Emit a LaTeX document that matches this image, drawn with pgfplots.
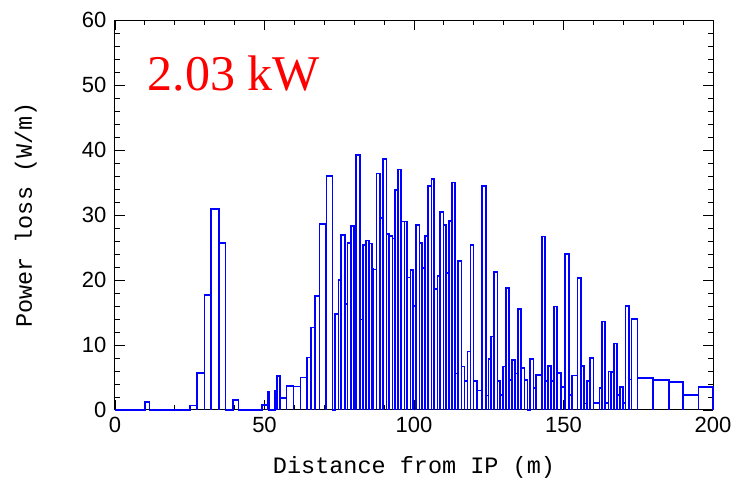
\documentclass[border=0pt]{standalone}
\usepackage{pgfplots}
\pgfplotsset{compat=1.18}
\usepackage{fontspec}
\setmainfont{Liberation Sans}
\newfontfamily\labfont{Liberation Mono}
\newfontfamily\timesfont{Liberation Serif}
\begin{document}
\begin{tikzpicture}
\useasboundingbox (-115pt,-80pt) rectangle (625pt,410pt);
\begin{axis}[
  scale only axis,
  width=598pt, height=390pt,
  xmin=0, xmax=200, ymin=0, ymax=60,
  xtick={0,50,100,150,200},
  ytick={0,10,20,30,40,50,60},
  minor x tick num=4,
  minor y tick num=4,
  tick align=inside,
  major tick length=10pt,
  minor tick length=5pt,
  axis line style={line width=1pt},
  every tick/.style={black, line width=0.9pt},
  /pgf/number format/assume math mode=true,
  ticklabel style={font=\fontsize{22}{24}\selectfont},
  xticklabel style={yshift=-4pt},
  yticklabel style={xshift=-5pt},
  xlabel={Distance from IP (m)},
  ylabel={Power loss (W/m)},
  every axis x label/.style={at={(axis description cs:0.5,-0.146)}, anchor=center, font=\labfont\fontsize{23.5}{26}\selectfont},
  every axis y label/.style={at={(axis description cs:-0.149,0.5)}, anchor=center, rotate=90, font=\labfont\fontsize{23.5}{26}\selectfont},
  clip=false,
]
% histogram outline: each bin drawn as a rectangle down to zero
\addplot[draw=blue, line width=1.6pt, mark=none, line join=miter] coordinates {
(0,0)
(10.0,0)(10.0,1.2)(11.5,1.2)(11.5,0)
(25.1,0)(25.1,0.7)(27.5,0.7)(27.5,0)
(27.5,5.7)(30.0,5.7)(30.0,0)
(30.0,17.7)(32.2,17.7)(32.2,0)
(32.2,30.9)(34.7,30.9)(34.7,0)
(34.7,25.7)(36.9,25.7)(36.9,0)
(39.4,0)(39.4,1.5)(41.3,1.5)(41.3,0)
(49.1,0)(49.1,0.8)(51.0,0.8)(51.0,0)
(51.0,2.8)(51.5,2.8)(51.5,0)
(53.5,0)(53.5,3.0)(54.1,3.0)(54.1,0)
(54.1,5.2)(55.2,5.2)(55.2,0)
(55.2,1.8)(57.4,1.8)(57.4,0)
(57.4,3.7)(59.7,3.7)(59.7,0)
(59.7,3.6)(62.1,3.6)(62.1,0)
(62.1,5.0)(64.2,5.0)(64.2,0)
(64.2,8.1)(65.5,8.1)(65.5,0)
(65.5,12.7)(66.9,12.7)(66.9,0)
(66.9,17.5)(68.4,17.5)(68.4,0)
(68.4,28.6)(70.4,28.6)(70.4,0)
(70.4,3.4)(70.8,3.4)(70.8,0)
(70.8,36.0)(72.8,36.0)(72.8,0)
(73.6,0)(73.6,14.8)(74.7,14.8)(74.7,0)
(74.7,20.0)(75.6,20.0)(75.6,0)
(75.6,26.9)(76.9,26.9)(76.9,0)
(76.9,16.3)(77.7,16.3)(77.7,0)
(77.7,25.7)(78.9,25.7)(78.9,0)
(78.9,28.3)(80.0,28.3)(80.0,0)
(80.0,22.5)(80.6,22.5)(80.6,0)
(80.6,39.2)(81.9,39.2)(81.9,0)
(81.9,13.9)(82.9,13.9)(82.9,0)
(82.9,25.4)(83.9,25.4)(83.9,0)
(83.9,26.1)(84.9,26.1)(84.9,0)
(84.9,25.6)(85.9,25.6)(85.9,0)
(85.9,21.7)(86.4,21.7)(86.4,0)
(86.4,21.6)(87.5,21.6)(87.5,0)
(87.5,36.4)(88.7,36.4)(88.7,0)
(88.7,29.5)(89.7,29.5)(89.7,0)
(89.7,38.6)(90.8,38.6)(90.8,0)
(90.8,27.1)(91.7,27.1)(91.7,0)
(91.7,26.8)(92.8,26.8)(92.8,0)
(92.8,26.4)(93.7,26.4)(93.7,0)
(93.7,33.8)(94.6,33.8)(94.6,0)
(94.6,37.0)(95.7,37.0)(95.7,0)
(95.7,29.0)(96.8,29.0)(96.8,0)
(96.8,29.0)(97.7,29.0)(97.7,0)
(97.7,20.4)(98.8,20.4)(98.8,0)
(98.8,21.5)(99.7,21.5)(99.7,0)
(99.7,16.0)(100.7,16.0)(100.7,0)
(100.7,28.5)(101.8,28.5)(101.8,0)
(101.8,25.7)(102.7,25.7)(102.7,0)
(102.7,21.8)(103.7,21.8)(103.7,0)
(103.7,26.8)(104.6,26.8)(104.6,0)
(104.6,34.5)(105.8,34.5)(105.8,0)
(105.8,35.5)(106.7,35.5)(106.7,0)
(106.7,18.6)(107.8,18.6)(107.8,0)
(107.8,20.6)(108.7,20.6)(108.7,0)
(108.7,30.5)(109.8,30.5)(109.8,0)
(109.8,28.5)(110.8,28.5)(110.8,0)
(110.8,21.1)(111.8,21.1)(111.8,0)
(111.8,29.1)(112.8,29.1)(112.8,0)
(112.8,35.0)(113.8,35.0)(113.8,0)
(113.8,5.6)(114.8,5.6)(114.8,0)
(114.8,22.9)(115.9,22.9)(115.9,0)
(115.9,6.7)(116.9,6.7)(116.9,0)
(116.9,4.5)(117.9,4.5)(117.9,0)
(117.9,9.0)(118.9,9.0)(118.9,0)
(118.9,25.4)(119.9,25.4)(119.9,0)
(119.9,4.5)(121.0,4.5)(121.0,0)
(121.0,3.0)(122.8,3.0)(122.8,0)
(122.8,34.5)(124.0,34.5)(124.0,0)
(124.0,2.2)(124.9,2.2)(124.9,0)
(124.9,7.8)(125.8,7.8)(125.8,0)
(125.8,11.3)(126.8,11.3)(126.8,0)
(126.8,21.2)(127.9,21.2)(127.9,0)
(127.9,4.5)(128.8,4.5)(128.8,0)
(128.8,2.3)(129.7,2.3)(129.7,0)
(129.7,6.7)(130.8,6.7)(130.8,0)
(130.8,18.8)(131.8,18.8)(131.8,0)
(131.8,4.6)(132.8,4.6)(132.8,0)
(132.8,7.7)(133.8,7.7)(133.8,0)
(133.8,5.6)(134.8,5.6)(134.8,0)
(134.8,15.5)(135.8,15.5)(135.8,0)
(135.8,6.5)(136.9,6.5)(136.9,0)
(136.9,4.6)(137.9,4.6)(137.9,0)
(138.7,0)(138.7,7.8)(139.9,7.8)(139.9,0)
(139.9,3.4)(140.8,3.4)(140.8,0)
(140.8,5.4)(142.8,5.4)(142.8,0)
(142.8,26.7)(143.9,26.7)(143.9,0)
(143.9,4.5)(144.8,4.5)(144.8,0)
(144.8,6.8)(145.9,6.8)(145.9,0)
(145.9,4.5)(146.8,4.5)(146.8,0)
(146.8,15.9)(147.9,15.9)(147.9,0)
(147.9,5.7)(149.2,5.7)(149.2,0)
(149.2,3.5)(150.5,3.5)(150.5,0)
(150.5,24.0)(151.9,24.0)(151.9,0)
(151.9,2.3)(152.8,2.3)(152.8,0)
(152.8,5.3)(154.7,5.3)(154.7,0)
(154.7,20.3)(155.9,20.3)(155.9,0)
(155.9,6.8)(156.9,6.8)(156.9,0)
(156.9,1.0)(157.8,1.0)(157.8,0)
(157.8,4.5)(158.8,4.5)(158.8,0)
(158.8,8.0)(160.0,8.0)(160.0,0)
(160.0,1.1)(162.0,1.1)(162.0,0)
(162.0,3.4)(162.9,3.4)(162.9,0)
(162.9,13.6)(163.9,13.6)(163.9,0)
(163.9,1.1)(165.0,1.1)(165.0,0)
(165.0,5.9)(165.9,5.9)(165.9,0)
(165.9,5.8)(166.8,5.8)(166.8,0)
(166.8,10.2)(167.9,10.2)(167.9,0)
(167.9,2.3)(168.8,2.3)(168.8,0)
(168.8,3.5)(169.8,3.5)(169.8,0)
(169.8,1.1)(170.8,1.1)(170.8,0)
(170.8,16.0)(171.9,16.0)(171.9,0)
(171.9,4.7)(172.8,4.7)(172.8,0)
(172.8,14.0)(174.8,14.0)(174.8,0)
(174.8,4.9)(179.9,4.9)(179.9,0)
(179.9,4.6)(185.2,4.6)(185.2,0)
(185.2,4.35)(190.0,4.35)(190.0,0)
(190.0,2.3)(195.2,2.3)(195.2,0)
(195.2,3.5)(200,3.5)(200,0)
};
\node[text=red, font=\timesfont\fontsize{50}{54}\selectfont, anchor=center] at (axis cs:39.8,51.8) {2.03 kW};
\end{axis}
\end{tikzpicture}
\end{document}
